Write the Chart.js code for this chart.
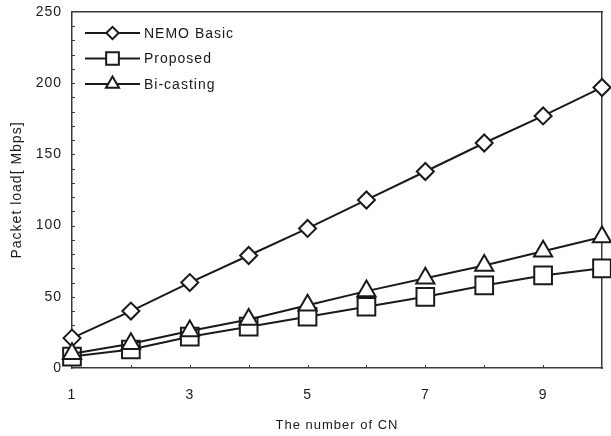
<!DOCTYPE html>
<html>
<head>
<meta charset="utf-8">
<script src="https://cdn.jsdelivr.net/npm/chart.js@4"></script>
<style>
  html, body { margin: 0; padding: 0; background: #fff; }
  #wrap { width: 611px; height: 436px; }
</style>
</head>
<body>
<div id="wrap"><canvas id="grafico"></canvas></div>
<script>
const xLabels = ['1', '2', '3', '4', '5', '6', '7', '8', '9', '10'];
const nemoBasic = [21, 40, 60, 79, 98, 118, 138, 158, 177, 197];
const proposed = [8, 13, 22, 29, 36, 43, 50, 58, 65, 70];
const biCasting = [10, 17, 26, 34, 44, 54, 63, 72, 82, 92];
const yTicks = [0, 50, 100, 150, 200, 250];

const FONT = "'Liberation Sans', Arial, sans-serif";
const INK = '#1a1a1a';
const FRAME = '#3a3a3a';

// letter spacing for all text, small inner ticks and the legend
const extrasPlugin = {
    id: 'extras',
    beforeDraw(chart) {
        chart.ctx.letterSpacing = '1px';
    },
    beforeDatasetsDraw(chart) {
        const ctx = chart.ctx;
        const a = chart.chartArea;
        const ys = chart.scales.y;
        const xs = chart.scales.x;
        ctx.save();
        ctx.strokeStyle = FRAME;
        ctx.lineWidth = 1;
        ctx.beginPath();
        for (let v = 10; v < 250; v += 10) {
            const py = Math.round(ys.getPixelForValue(v)) + 0.5;
            ctx.moveTo(a.left, py);
            ctx.lineTo(a.left + 3, py);
        }
        for (let i = 1; i < xLabels.length - 1; i++) {
            const px = Math.round(xs.getPixelForValue(i)) + 0.5;
            ctx.moveTo(px, a.bottom);
            ctx.lineTo(px, a.bottom - 3);
        }
        ctx.stroke();
        ctx.restore();
    },
    afterDatasetsDraw(chart) {
        const ctx = chart.ctx;
        const a = chart.chartArea;
        ctx.save();
        chart.data.datasets.forEach((ds, i) => {
            const y = a.top + 21 + i * 25.5;
            const x0 = a.left + 13;
            const x1 = a.left + 68;
            ctx.strokeStyle = INK;
            ctx.lineWidth = 2;
            ctx.beginPath();
            ctx.moveTo(x0, y);
            ctx.lineTo(x1, y);
            ctx.stroke();
            ctx.fillStyle = '#fff';
            Chart.helpers.drawPoint(ctx, {
                pointStyle: ds.pointStyle,
                radius: ds.pointRadius * 0.72,
                borderWidth: 2
            }, (x0 + x1) / 2, y);
            ctx.fillStyle = INK;
            ctx.font = '14px ' + FONT;
            ctx.textBaseline = 'middle';
            ctx.textAlign = 'left';
            ctx.fillText(ds.label, x1 + 4, y + 1);
        });
        ctx.restore();
    }
};

function serie(label, data, style, radius, order) {
    return {
        label: label,
        data: data,
        borderColor: INK,
        borderWidth: 2,
        pointStyle: style,
        pointRadius: radius,
        pointBorderWidth: 2,
        pointBackgroundColor: '#fff',
        pointBorderColor: INK,
        fill: false,
        tension: 0,
        order: order
    };
}

const frameBorder = { display: true, color: FRAME, width: 1.5 };
const noGrid = { display: false, drawTicks: false };

const config = {
    type: 'line',
    data: {
        labels: xLabels,
        datasets: [
            serie('NEMO Basic', nemoBasic, 'rectRot', 8.5, 3),
            serie('Proposed', proposed, 'rect', 12.5, 2),
            serie('Bi-casting', biCasting, 'triangle', 10.5, 1)
        ]
    },
    options: {
        responsive: true,
        maintainAspectRatio: false,
        animation: false,
        layout: {
            autoPadding: false,
            padding: { top: 12, right: 9, left: 0, bottom: 0 }
        },
        plugins: {
            legend: { display: false },
            tooltip: { enabled: false }
        },
        scales: {
            x: {
                offset: false,
                grid: noGrid,
                border: frameBorder,
                ticks: {
                    autoSkip: false,
                    maxRotation: 0,
                    padding: 19,
                    color: INK,
                    font: { family: FONT, size: 14 },
                    callback: (v, i) => (i % 2 === 0 ? xLabels[i] : '')
                },
                title: {
                    display: true,
                    text: 'The number of CN',
                    color: INK,
                    font: { family: FONT, size: 13 },
                    padding: { top: 9, bottom: 3 }
                },
                afterFit: (s) => {
                    s.height = 68;
                    s.paddingLeft = 0;
                    s.paddingRight = 0;
                }
            },
            x2: {
                type: 'category',
                labels: xLabels,
                position: 'top',
                offset: false,
                grid: noGrid,
                border: frameBorder,
                ticks: { display: false },
                afterFit: (s) => {
                    s.height = 0;
                    s.paddingLeft = 0;
                    s.paddingRight = 0;
                }
            },
            y: {
                min: 0,
                max: 250,
                afterBuildTicks: (s) => { s.ticks = yTicks.map(v => ({ value: v })); },
                grid: noGrid,
                border: frameBorder,
                ticks: {
                    padding: 10,
                    color: INK,
                    font: { family: FONT, size: 14 }
                },
                title: {
                    display: true,
                    text: 'Packet load[ Mbps]',
                    color: INK,
                    font: { family: FONT, size: 14 },
                    padding: { top: 9, bottom: 4 }
                },
                afterFit: (s) => {
                    s.width = 72;
                    s.paddingTop = 0;
                    s.paddingBottom = 0;
                }
            },
            y2: {
                position: 'right',
                min: 0,
                max: 250,
                grid: noGrid,
                border: frameBorder,
                ticks: { display: false },
                afterFit: (s) => {
                    s.width = 0;
                    s.paddingTop = 0;
                    s.paddingBottom = 0;
                }
            }
        }
    },
    plugins: [extrasPlugin]
};

const canvas = document.getElementById('grafico');
const myChart = new Chart(canvas, config);
</script>
</body>
</html>
